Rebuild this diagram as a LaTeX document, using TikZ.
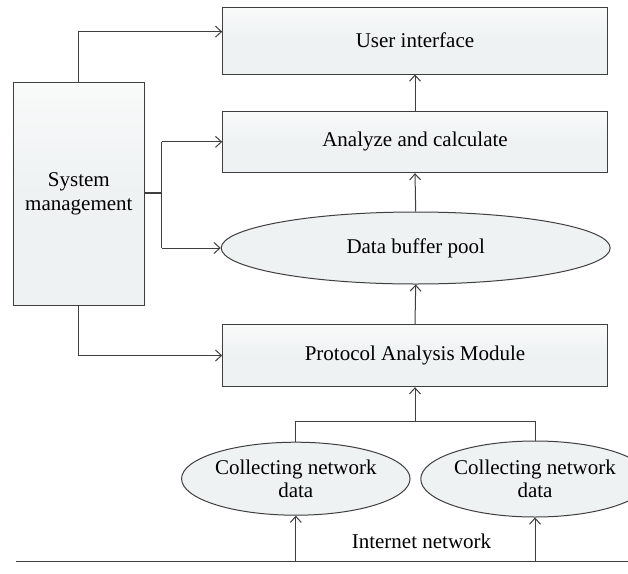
\documentclass[tikz,border=0pt]{standalone}
\usepackage{fontspec}
\setmainfont{Liberation Serif}
\usetikzlibrary{arrows.meta,shapes.geometric,calc}
\definecolor{boxfill}{HTML}{EEF2F3}
\definecolor{boxtop}{HTML}{F9FAFA}
\definecolor{edge}{HTML}{3F3F3F}
\begin{document}
\begin{tikzpicture}[x=1pt,y=-1pt,
  every node/.style={font=\fontsize{21}{23.5}\selectfont, text=black},
  rbox/.style={draw=edge, line width=1pt, top color=boxtop, bottom color=boxfill, middle color=boxfill, rectangle, inner sep=0pt, align=center},
  ebox/.style={draw=edge, line width=1pt, fill=boxfill, ellipse, inner sep=0pt, align=center},
  arr/.style={draw=edge, line width=1pt, -{Straight Barb[length=6pt,width=11pt,line width=1pt]}},
  ln/.style={draw=edge, line width=1pt}]
\useasboundingbox (0,0) rectangle (628,573);
\fill[white] (0,0) rectangle (628,573);
\begin{scope}
\clip (0,0) rectangle (628,573);
\node[rbox, minimum width=384.6pt, minimum height=66.7pt] (ui) at (415,40.65) {User interface};
\node[rbox, minimum width=384.6pt, minimum height=61.7pt] (ac) at (415,141.85) {Analyze and calculate};
\node[ebox, minimum width=389pt, minimum height=72pt] (dbp) at (415.7,248) {Data buffer pool};
\node[rbox, minimum width=384.6pt, minimum height=62.4pt] (pam) at (415,355.5) {Protocol Analysis Module};
\node[rbox, minimum width=130.3pt, minimum height=223.3pt] (sm) at (78.85,193.65) {System\\management};
\node[ebox, minimum width=205pt, minimum height=73pt] (c1) at (295.8,478.7) {Collecting network\\data};
\node[ebox, minimum width=208pt, minimum height=76pt] (c2) at (535,479) {Collecting network\\data};
\node (net) at (421.5,541) {Internet network};
\coordinate (bl) at (16,561.7);
\coordinate (br) at (628,561.7);
\coordinate (j) at (161.7,193.3);
\coordinate (m) at (415,421.7);

\draw[arr] (sm.north) |- ([yshift=9pt]ui.west);
\draw[draw=edge, line width=1.7pt] (sm.east |- j) -- (j);
\draw[ln] ([yshift=-0.5pt]j |- ac.west) -- (j |- dbp.west);
\draw[arr] (j |- ac.west) -- (ac.west);
\draw[arr] (j |- dbp.west) -- (dbp.west);
\draw[arr] (sm.south) |- (pam.west);
\draw[arr] (ac.north) -- (ui.south);
\draw[arr] (dbp.north) -- (ac.south);
\draw[arr] (pam.north) -- (dbp.south);
\draw[ln] (c1.north) |- (m) -| (c2.north);
\draw[arr] (m) -- (pam.south);
\draw[ln] (bl) -- (br);
\draw[arr] (c1.south |- bl) -- (c1.south);
\draw[arr] (c2.south |- bl) -- (c2.south);
\end{scope}
\end{tikzpicture}
\end{document}
